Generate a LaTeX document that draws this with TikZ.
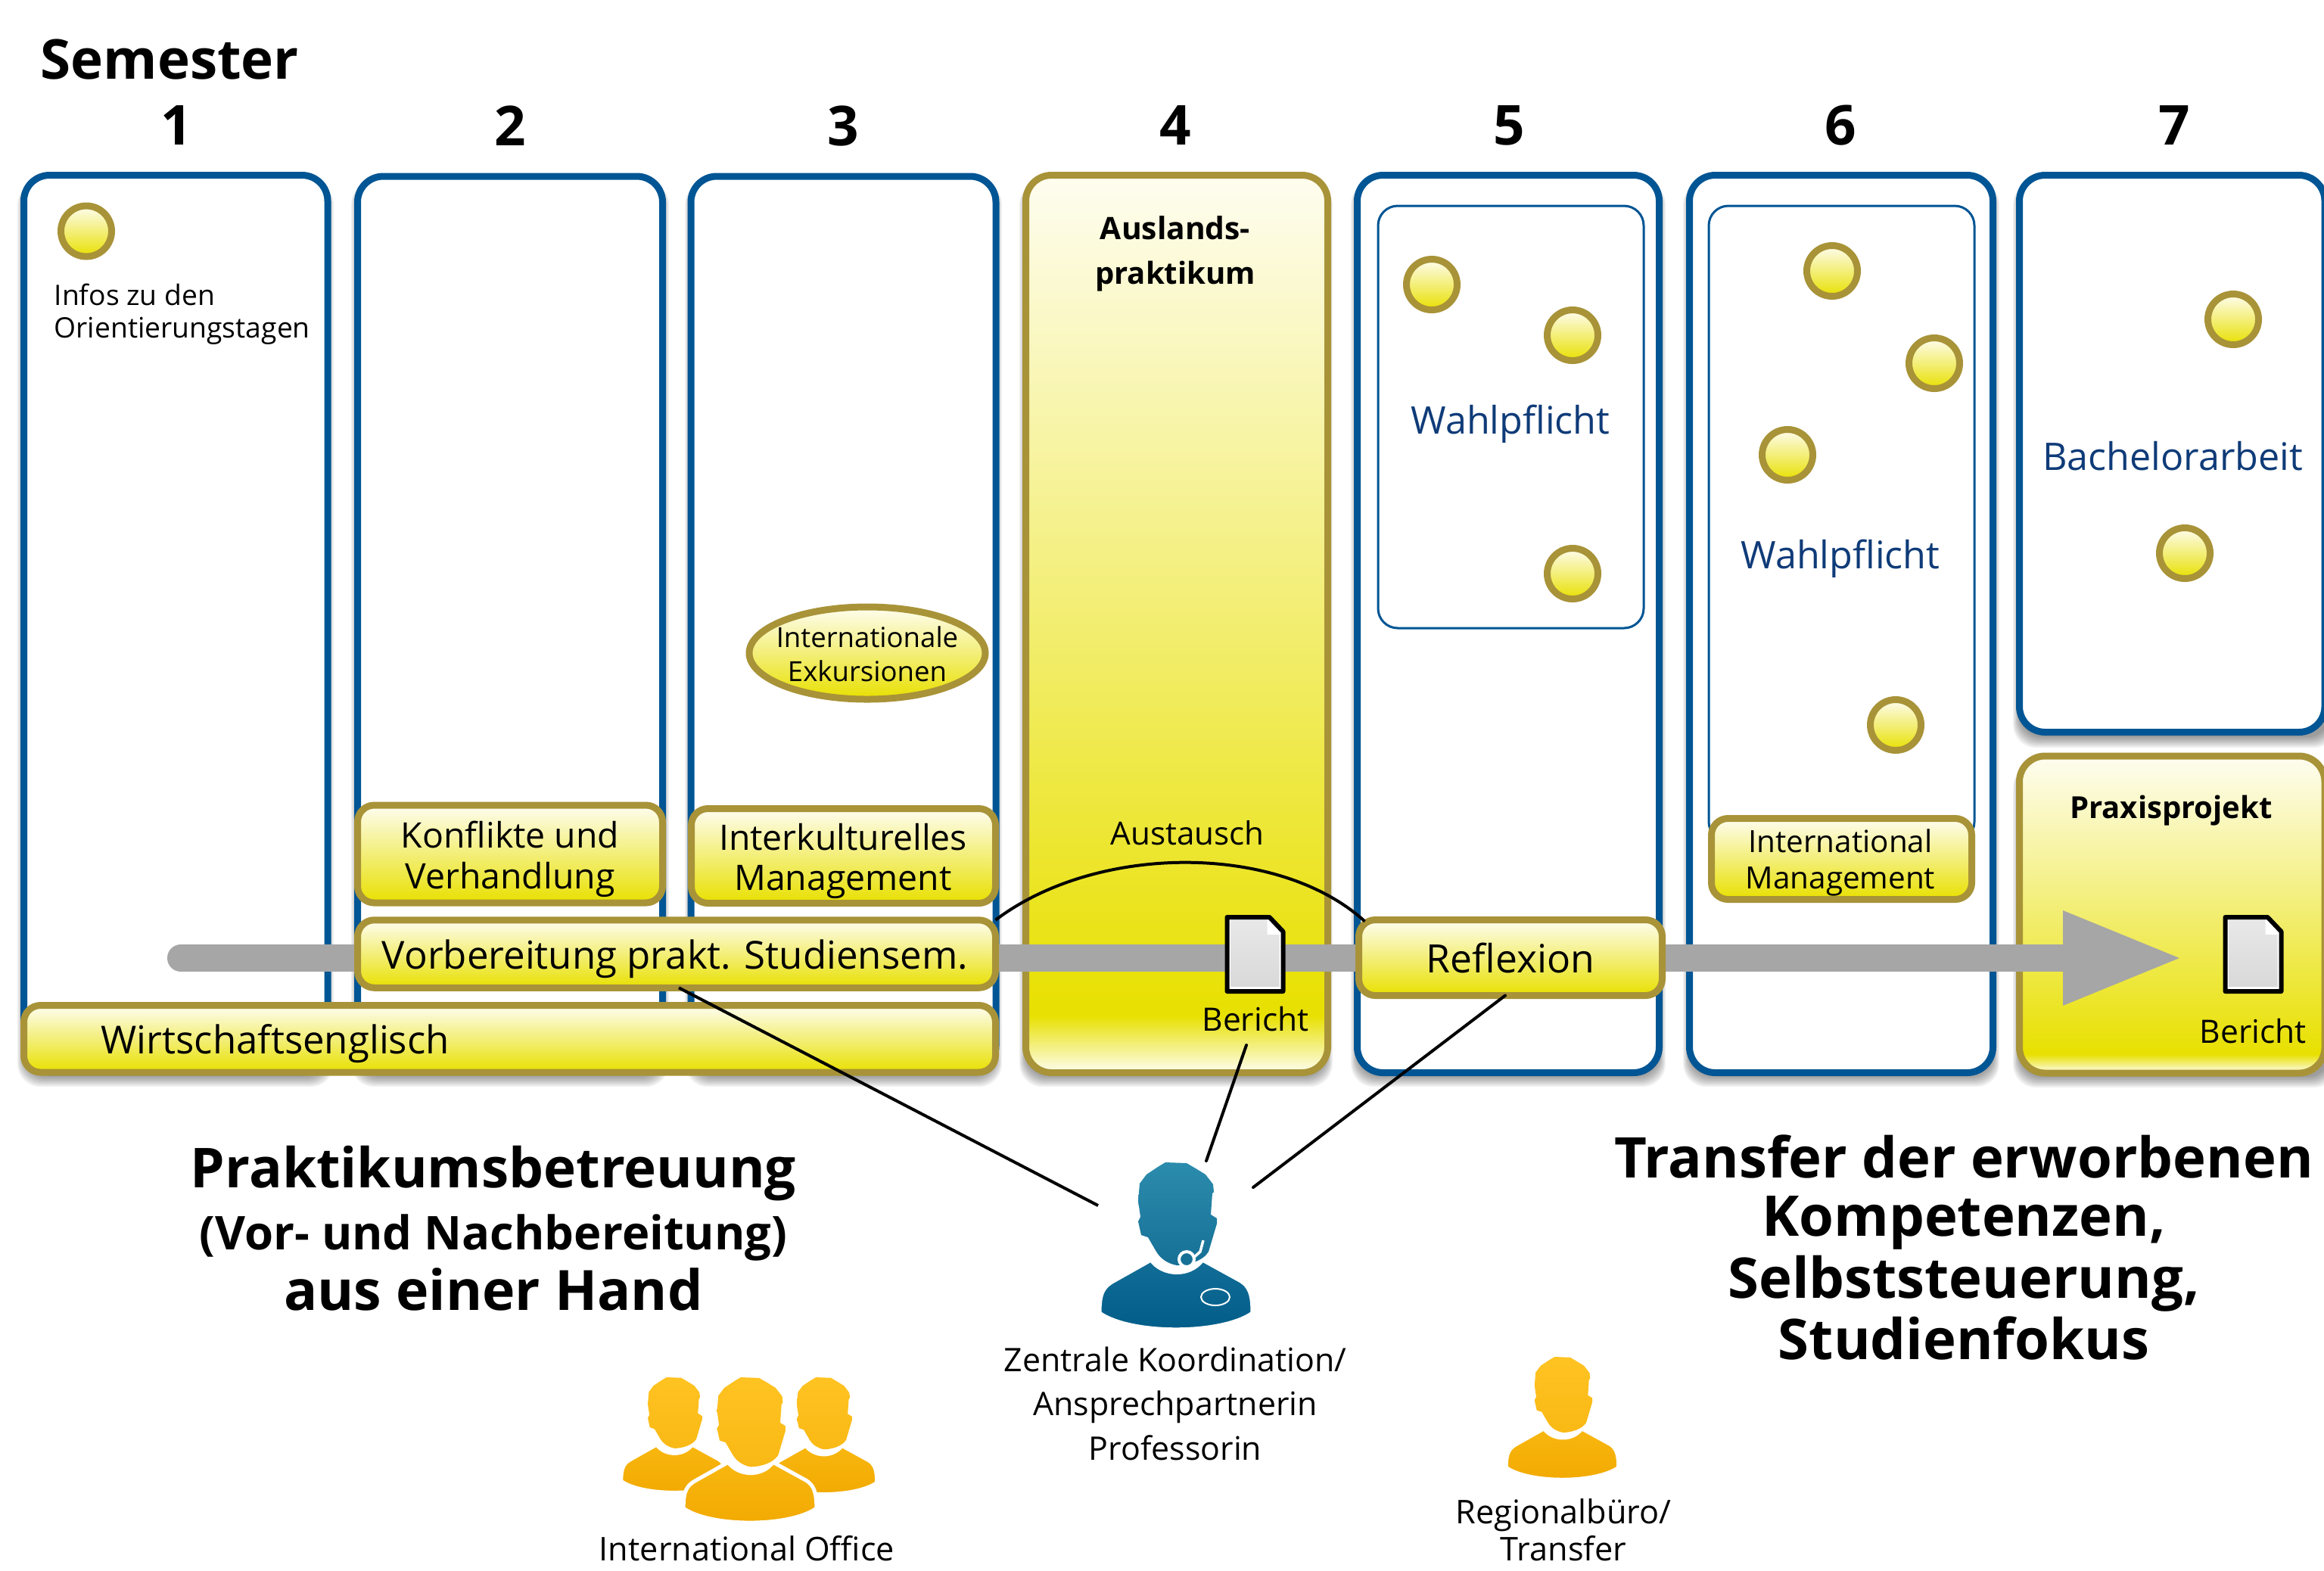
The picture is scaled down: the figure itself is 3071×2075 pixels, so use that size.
\documentclass[tikz,border=0pt]{standalone}
\usepackage{fontspec}
\setmainfont{Open Sans}
\usetikzlibrary{arrows.meta,shapes.geometric}
\definecolor{semblue}{HTML}{005594}
\definecolor{gold}{HTML}{A89338}
\definecolor{ytop}{HTML}{FEFDF0}
\definecolor{ybot}{HTML}{E8E000}
\definecolor{bartone}{HTML}{A6A6A6}
\definecolor{wahl}{HTML}{0F3B78}
\definecolor{blueA}{HTML}{2C8CAD}
\definecolor{blueB}{HTML}{167096}
\definecolor{blueC}{HTML}{126E97}
\definecolor{blueD}{HTML}{005C88}
\definecolor{orA}{HTML}{FFC322}
\definecolor{orB}{HTML}{F9B915}
\definecolor{orC}{HTML}{F8B710}
\definecolor{orD}{HTML}{F2A900}
\pgfdeclareverticalshading{colfour}{100bp}{color(0bp)=(ytop); color(25bp)=(ytop); color(28.2bp)=(ybot); color(75bp)=(ytop); color(100bp)=(ytop)}
\pgfdeclareverticalshading{colseven}{100bp}{color(0bp)=(ytop); color(25bp)=(ytop); color(28bp)=(ybot); color(75bp)=(ytop); color(100bp)=(ytop)}
\newcommand{\fs}[1]{\fontsize{#1}{#1}\selectfont}
\newcommand{\fsb}[2]{\fontsize{#1}{#2}\selectfont}
\newcommand{\softshadow}[4]{%
  \foreach \i in {1,...,8}{%
    \fill[black,opacity=.06,rounded corners=3mm]
      (#1-9+\i*1.2,#2) rectangle (#3+9-\i*1.2,#4+18-\i*2);}}
\newcommand{\person}[7]{% x y scale head-top head-bot body-top body-bot
  \begin{scope}[shift={(#1,#2)},scale=#3]
    \shade[top color=#6,bottom color=#7,draw=white,line width=.5mm,line join=round]
      (-33,129) .. controls (-18,150) and (18,152) .. (35,129)
      -- (86,157) .. controls (96,164) and (101,172) .. (101,199)
      .. controls (60,228) and (-60,228) .. (-101,199)
      .. controls (-101,172) and (-96,164) .. (-81,156) -- cycle;
    \shade[top color=#4,bottom color=#5]
      (-14,0) -- (14,1) -- (26,8) -- (39,16) -- (49,29) -- (50,39) -- (48,41) -- (46,69)
      -- (54,74) -- (54,81) -- (43,118) .. controls (36,130) and (16,136) .. (1,136)
      .. controls (-10,134) and (-20,128) .. (-26,118)
      -- (-37,99) -- (-46,96) -- (-50,78) -- (-47,72) -- (-50,51) -- (-48,28) -- (-39,16) -- (-24,6) -- cycle;
  \end{scope}}
\newcommand{\docicon}[2]{%
  \begin{scope}[shift={(#1,#2)}]
    \fill[white] (-37,-49) -- (19,-49) -- (37,-30) -- (37,49) -- (-37,49) -- cycle;
    \shade[top color=black!9,bottom color=black!15] (-32,-46) -- (16,-46) -- (16,-26) -- (32,-26) -- (32,43) -- (-32,43) -- cycle;
    \draw[black,line width=.6mm,line join=round] (-37,-49) -- (19,-49) -- (37,-30) -- (37,49) -- (-37,49) -- cycle;
  \end{scope}}
\tikzset{
  semcol/.style={draw=semblue,line width=.9mm,rounded corners=3.4mm,fill=white,rectangle,inner sep=0pt,outer sep=0pt},
  thinbox/.style={draw=semblue,line width=.3mm,rounded corners=2.6mm,rectangle,inner sep=0pt,outer sep=0pt},
  goldcol/.style={rectangle,draw=gold,line width=.9mm,rounded corners=3.4mm,inner sep=0pt,outer sep=0pt},
  ybox/.style={rectangle,draw=gold,line width=.9mm,rounded corners=2.2mm,top color=ytop,bottom color=ybot,inner sep=0pt,outer sep=0pt,align=center},
  dot/.style={circle,draw=gold,line width=.9mm,top color=ytop,bottom color=ybot,minimum size=6.7mm,inner sep=0pt},
  lab/.style={inner sep=0pt,align=center,text=black},
  wahlt/.style={lab,text=wahl,font=\fs{14.3}},
  headl/.style={lab,font=\bfseries\fs{20.9}},
  link/.style={draw=black,line width=.4mm}
}
\begin{document}
\begin{tikzpicture}[x=.1mm,y=-.1mm]
\useasboundingbox (0,0) rectangle (3071,2075);
% shadows
\softshadow{31}{240}{433}{1420}
\softshadow{472}{240}{876}{1420}
\softshadow{913}{240}{1316}{1420}
\softshadow{1355}{240}{1753}{1420}
\softshadow{1793}{240}{2193}{1420}
\softshadow{2232}{240}{2634}{1420}
\softshadow{2668}{240}{3080}{972}
\softshadow{2668}{1010}{3080}{1421}
% columns
\node[semcol,minimum width=40.15mm,minimum height=118.5mm,anchor=north west] (c1) at (31.5,231.5) {};
\node[semcol,minimum width=40.3mm,minimum height=118.3mm,anchor=north west] (c2) at (472.5,233) {};
\node[semcol,minimum width=40.3mm,minimum height=118.3mm,anchor=north west] (c3) at (913,233) {};
\node[goldcol,shading=colfour,minimum width=39.9mm,minimum height=118.6mm,anchor=north west] (c4) at (1355.5,231.5) {};
\node[semcol,minimum width=39.9mm,minimum height=118.6mm,anchor=north west] (c5) at (1793.5,231.5) {};
\node[semcol,minimum width=40.1mm,minimum height=118.6mm,anchor=north west] (c6) at (2232.5,231.5) {};
\node[semcol,minimum width=40.35mm,minimum height=73.6mm,anchor=north west] (c7) at (2668.5,231.5) {};
\node[goldcol,shading=colseven,minimum width=40.35mm,minimum height=41.9mm,anchor=north west] (prax) at (2668.5,999) {};
\node[thinbox,minimum width=35.1mm,minimum height=55.8mm,anchor=north west] (wp5) at (1821,272) {};
\node[thinbox,minimum width=35.1mm,minimum height=84mm,anchor=north west] (wp6) at (2258,272) {};
% semester labels
\node[lab,font=\bfseries\fs{20.7},anchor=west] (sem) at (53,78) {Semester};
\foreach \n/\x in {1/233,2/674,3/1114,4/1553,5/1994,6/2432,7/2873}
  \node[lab,font=\bfseries\fs{20.7}] (n\n) at (\x,166) {\n};
% dots
\node[dot] (d1) at (114,305.5) {};
\node[dot] (d2) at (1892,376) {};
\node[dot] (d3) at (2078,443) {};
\node[dot] (d4) at (2078,758) {};
\node[dot] (d5) at (2421,358) {};
\node[dot] (d6) at (2556,480) {};
\node[dot] (d7) at (2362,601) {};
\node[dot] (d8) at (2505,958) {};
\node[dot] (d9) at (2951,422) {};
\node[dot] (d10) at (2887,731) {};
% column texts
\node[lab,align=left,anchor=west,font=\fs{10.6}] (infos1) at (71,389) {Infos zu den};
\node[lab,align=left,anchor=west,font=\fs{10.6}] (infos2) at (71,437) {Orientierungstagen};
\node[lab,font=\bfseries\fs{11.6}] (ausl1) at (1553,301) {Auslands-};
\node[lab,font=\bfseries\fs{11.4}] (ausl2) at (1553,365) {praktikum};
\node[wahlt] (w5) at (1996,560) {Wahlpflicht};
\node[wahlt] (w6) at (2432,738) {Wahlpflicht};
\node[wahlt] (ba) at (2871,603) {Bachelorarbeit};
\node[lab,font=\bfseries\fs{11.4}] (ptxt) at (2869,1071) {Praxisprojekt};
\node[lab,font=\fs{12}] (aus) at (1569,1101) {Austausch};
% ellipse
\node[ellipse,draw=gold,line width=.9mm,top color=ytop,bottom color=ybot,inner sep=0pt,minimum width=31.2mm,minimum height=12.2mm] (exk) at (1146,863) {};
\node[lab,font=\fsb{10.4}{12.7}] (exktxt) at (1146,864) {Internationale\\Exkursionen};
% main arrow
\coordinate (barstart) at (239,1266);
\coordinate (bartip) at (2886,1266);
\draw[bartone,line width=3.6mm,line cap=round,-{Triangle[width=11.4mm,length=16mm]}] (barstart) -- (bartip);
% yellow boxes
\node[ybox,minimum width=128.4mm,minimum height=8.85mm,anchor=north west] (wirt) at (31.5,1328.5) {};
\node[lab,font=\fs{14.5},anchor=west] (wirttxt) at (133,1379) {Wirtschaftsenglisch};
\node[ybox,minimum width=84.3mm,minimum height=8.95mm] (vorb) at (894,1260.5) {};
\node[lab,font=\fs{14.5}] (vorbtxt) at (892,1267) {Vorbereitung prakt. Studiensem.};
\node[ybox,minimum width=40.3mm,minimum height=12.9mm] (konf) at (674,1128.5) {};
\node[lab,font=\fsb{13.2}{15.3}] (konftxt) at (674,1135) {Konflikte und\\Verhandlung};
\node[ybox,minimum width=40.2mm,minimum height=12.5mm] (inter) at (1114.5,1131) {};
\node[lab,font=\fsb{13.2}{15.3}] (intertxt) at (1114,1138) {Interkulturelles\\Management};
\node[ybox,minimum width=40.1mm,minimum height=10mm,font=\fs{14.7}] (refl) at (1996,1265.5) {Reflexion};
\node[ybox,minimum width=34.4mm,minimum height=10.7mm] (intm) at (2433.5,1135) {};
\node[lab,font=\fsb{11.5}{13.8}] (intmtxt) at (2432,1140) {International\\Management};
% documents
\docicon{1658.5}{1261}
\docicon{2977.5}{1261}
\node[lab,font=\fs{12.1}] (ber1) at (1659,1347) {Bericht};
\node[lab,font=\fs{12.1}] (ber2) at (2977,1363) {Bericht};
% people
\person{890.5}{1820}{.69}{orA}{orB}{orC}{orD}
\person{1088}{1820}{.70}{orA}{orB}{orC}{orD}
\person{991}{1820}{.87}{orA}{orB}{orC}{orD}
\person{2064.5}{1793}{.735}{orA}{orB}{orC}{orD}
\person{1554}{1536}{1}{blueA}{blueB}{blueC}{blueD}
\begin{scope}[shift={(1554,1536)}]
  \draw[white,line width=.4mm,fill=blueB] (14,128) circle [radius=10];
  \draw[white,line width=.35mm] (36,103) -- (32,118) -- (23,126);
  \draw[white,line width=.2mm] (52,178) ellipse [x radius=19,y radius=11];
\end{scope}
\coordinate (koa) at (1451,1593);
\coordinate (kob) at (1594,1534);
\coordinate (koc) at (1656,1569);
% connectors
\draw[link] (vorb.north east) .. controls (1450,1114) and (1690,1114) .. ([shift={(8,2)}]refl.north west);
\draw[link] ([shift={(3,0)}]vorb.south) -- (koa);
\draw[link,line cap=round] ([shift={(-12,17)}]ber1.south) -- (kob);
\draw[link,line cap=round] ([shift={(-7,0)}]refl.south) -- (koc);
% bottom texts
\node[lab,font=\bfseries\fs{20.7}] (pb) at (652,1551) {Praktikumsbetreuung};
\node[lab,font=\bfseries\fs{17.5}] (vn) at (652,1635) {(Vor- und Nachbereitung)};
\node[headl] (ah) at (652,1704) {aus einer Hand};
\node[lab,font=\bfseries\fs{21.1}] (t1) at (2595,1528) {Transfer der erworbenen};
\node[lab,font=\bfseries\fs{21.1}] (t2) at (2595,1616) {Kompetenzen,};
\node[lab,font=\bfseries\fs{21.1}] (t3) at (2595,1696) {Selbststeuerung,};
\node[lab,font=\bfseries\fs{21.1}] (t4) at (2595,1768) {Studienfokus};
\node[lab,font=\fs{12.2}] (z1) at (1553,1796) {Zentrale Koordination/};
\node[lab,font=\fs{12.2}] (z2) at (1553,1859) {Ansprechpartnerin};
\node[lab,font=\fs{12.2}] (z3) at (1553,1913) {Professorin};
\node[lab,font=\fs{12.3},anchor=base] (io) at (987,2062) {International Office};
\node[lab,font=\fs{12.3}] (r1) at (2066,2002) {Regionalbüro/};
\node[lab,font=\fs{12.3},anchor=base] (r2) at (2066,2062) {Transfer};
\end{tikzpicture}
\end{document}
